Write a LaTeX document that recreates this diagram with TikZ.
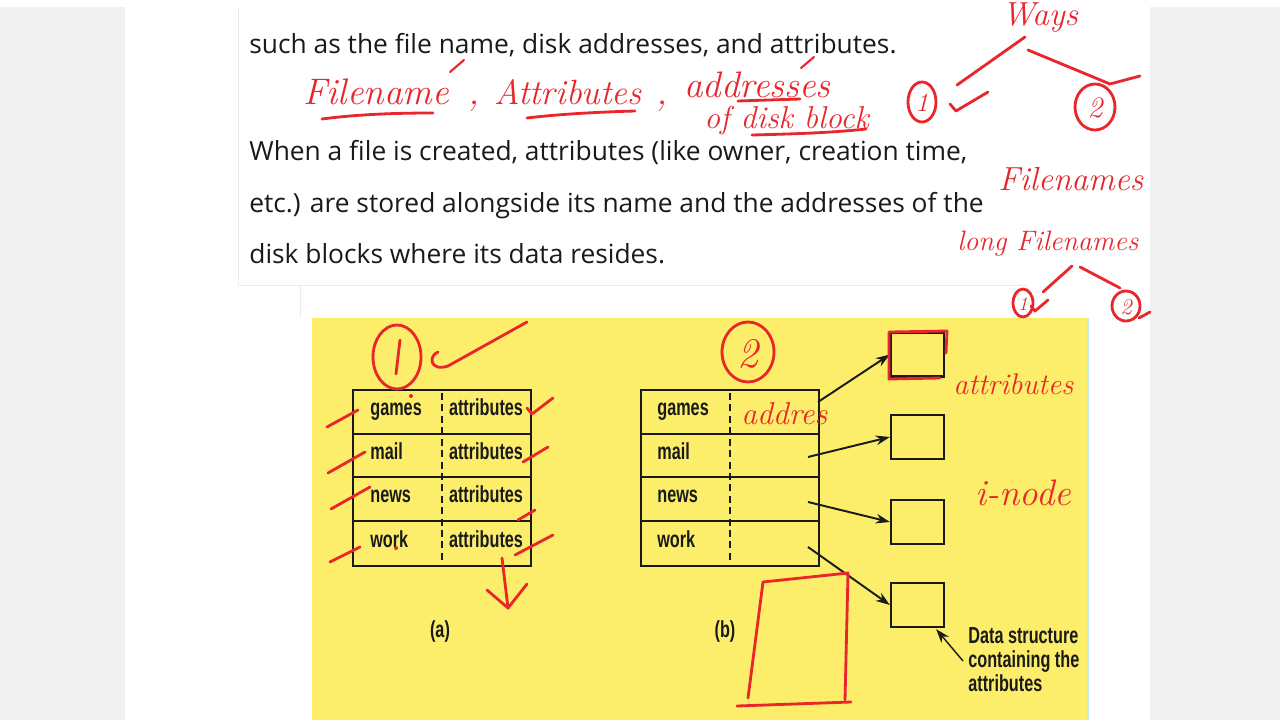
\documentclass[tikz,border=0pt]{standalone}
\usepackage{fontspec}
\usetikzlibrary{arrows.meta,calc}
\newfontfamily\bodyfont{Open Sans}
\newfontfamily\tabfont[FakeStretch=0.7]{Liberation Sans}
\definecolor{pagegray}{HTML}{F1F1F1}
\definecolor{hlyellow}{HTML}{FCEE6A}
\definecolor{penred}{HTML}{E8262B}
\definecolor{ink}{HTML}{1A1A1A}
\begin{document}
\begin{tikzpicture}[x=0.02cm,y=-0.02cm,
  body/.style={anchor=base west,inner sep=0,text=ink,font=\bodyfont\fontsize{15}{18}\selectfont},
  cell/.style={inner sep=0,text=ink,font=\tabfont\bfseries\fontsize{13.2}{13.7}\selectfont},
  ibox/.style={draw=ink,line width=1.3pt,minimum width=1.06cm,minimum height=0.88cm,inner sep=0},
  arr/.style={draw=ink,line width=1.1pt,-{Stealth[length=8pt,width=5.5pt]}},
  tab/.style={draw=ink,line width=1.6pt},
  divider/.style={draw=ink,line width=0.6pt,dash pattern=on 4pt off 2.5pt},
  pen/.style={draw=penred,line width=1.6pt,line cap=round,line join=round},
  hand/.style={text=penred,inner sep=0,anchor=base west,font=\itshape\fontsize{21}{24}\selectfont}]
\useasboundingbox (0,0) rectangle (1280,720);
% page
\fill[pagegray] (0,0) rectangle (1280,720);
\fill[white] (125,7) rectangle (1150,720);
\fill[white] (0,0) rectangle (1280,7);
\draw[black!8,line width=0.5pt] (238,7) -- (238,285) -- (1027,285);
\draw[black!8,line width=0.5pt] (300,285) -- (300,318);
% body text
\node[body] (t1) at (249,53) {such as the file name, disk addresses, and attributes.};
\node[body] (t2) at (249,160) {When a file is created, attributes (like owner, creation time,};
\node[body] (t3) at (249,212) {etc.) are stored alongside its name and the addresses of the};
\node[body] (t4) at (249,263) {disk blocks where its data resides.};
% yellow figure
\fill[hlyellow] (312,318) rectangle (1088,720);
\draw[cyan!25,line width=1pt] (1088,318) -- (1088,720);
% table (a)
\draw[tab] (353,390) rectangle (531,566);
\foreach \yy in {434,477,521} \draw[tab] (353,\yy) -- (531,\yy);
\draw[divider] (442,393) -- (442,563);
\foreach \nm/\tx/\yy in {ga/games/412,ma/mail/455.5,na/news/499,wa/work/543.5}{
  \node[cell,anchor=mid west] (\nm) at (370,\yy) {\tx};
  \node[cell,anchor=mid] (\nm t) at (486,\yy) {attributes};
}
% table (b)
\draw[tab] (641,390) rectangle (819,566);
\foreach \yy in {434,477,521} \draw[tab] (641,\yy) -- (819,\yy);
\draw[divider] (730,393) -- (730,563);
\foreach \nm/\tx/\yy in {gb/games/412,mb/mail/455.5,nb/news/499,wb/work/543.5}{
  \node[cell,anchor=mid west] (\nm) at (657,\yy) {\tx};
}
% attribute boxes
\node[ibox] (b1) at (917.5,354.5) {};
\node[ibox] (b2) at (917.5,437) {};
\node[ibox] (b3) at (917.5,522) {};
\node[ibox] (b4) at (917.5,605) {};
\coordinate (s1) at (818,402);
\coordinate (s2) at (808,457);
\coordinate (s3) at (808,502);
\coordinate (s4) at (808,547);
\draw[arr] (s1) -- (b1.west);
\draw[arr] (s2) -- (b2.west);
\draw[arr] (s3) -- (b3.west);
\draw[arr] (s4) -- (b4.west);
% labels
\node[cell] (la) at (440,631) {(a)};
\node[cell] (lb) at (725,631) {(b)};
\node[cell,anchor=north west,align=left] (ds) at (968,627) {Data structure\\containing the\\attributes};
\coordinate (dsp) at (963,661);
\draw[arr,line width=0.8pt] (dsp) -- ($(b4.south east)+(-9,1)$);
% ---- handwritten annotations ----
\node[hand] (hfn) at (303,104) {Filename};
\node[hand] (hc1) at (468,104) {,};
\node[hand,font=\itshape\fontsize{20}{24}\selectfont] (hat) at (494,104) {Attributes};
\node[hand] (hc2) at (656,104) {,};
\node[hand] (had) at (684,97) {addresses};
\node[hand,font=\itshape\fontsize{18}{22}\selectfont] (hdb) at (704,128) {of disk block};
\draw[pen] (322,119) .. controls (360,114) and (400,113) .. (433,113);
\draw[pen] (527,118) .. controls (560,114) and (600,112) .. (635,111);
\draw[pen] (738,101) -- (800,99);
\draw[pen] (752,135) .. controls (790,134) and (830,133) .. (866,129);
\draw[pen,line width=1.2pt] (450,72) -- (464,60);
\draw[pen,line width=1.2pt] (801,68) -- (814,57);
% ways tree
\node[hand,anchor=base,font=\itshape\fontsize{19}{22}\selectfont] (hw) at (1040,25) {Ways};
\draw[pen] (1025,37) -- (957,85);
\draw[pen] (1028,50) -- (1110,84) -- (1140,76);
\draw[pen] (922,102) ellipse [x radius=14,y radius=20];
\node[hand,anchor=center,font=\itshape\fontsize{15}{18}\selectfont] (hw1) at (922,103) {1};
\draw[pen] (950,104) -- (956,111) -- (988,92);
\draw[pen] (1095,107) ellipse [x radius=20,y radius=23];
\node[hand,anchor=center,font=\itshape\fontsize{17}{20}\selectfont] (hw2) at (1095,108) {2};
\node[hand,font=\itshape\fontsize{19}{22}\selectfont] (hfs) at (998,190) {Filenames};
\node[hand,font=\itshape\fontsize{16}{20}\selectfont] (hlf) at (957,250) {long Filenames};
\draw[pen] (1072,266) -- (1043,292);
\draw[pen] (1080,267) -- (1120,288);
\draw[pen] (1023,303) ellipse [x radius=10,y radius=14];
\node[hand,anchor=center,font=\itshape\fontsize{11}{13}\selectfont] (hs1) at (1023,304) {1};
\draw[pen] (1031,306) -- (1035,311) -- (1048,300);
\draw[pen] (1126,306) ellipse [x radius=14,y radius=15];
\node[hand,anchor=center,font=\itshape\fontsize{13}{15}\selectfont] (hs2) at (1126,307) {2};
\draw[pen] (1139,318) -- (1150,312);
% annotations on figure
\draw[pen] (397,357) ellipse [x radius=24,y radius=32];
\draw[pen] (400,340) -- (396,374);
\draw[pen] (438,352) .. controls (428,356) and (430,372) .. (448,366) -- (527,322);
\draw[pen] (748,352) ellipse [x radius=26,y radius=30];
\node[hand,anchor=center,font=\itshape\fontsize{24}{28}\selectfont] (h2b) at (748,354) {2};
% ticks on table (a)
\draw[pen] (327,427) -- (358,410);
\draw[pen] (328,473) -- (365,452);
\draw[pen] (331,509) -- (370,487);
\draw[pen] (330,562) -- (360,547);
\draw[pen] (527,408) -- (532,414) -- (553,398);
\draw[pen] (523,462) -- (548,447);
\draw[pen] (518,520) -- (535,510);
\draw[pen] (515,555) -- (553,535);
\draw[pen] (502,558) -- (508,608);
\draw[pen] (487,590) -- (508,608) -- (527,584);
\fill[penred] (396,548) circle [radius=2];
\fill[penred] (411,396) circle [radius=2];
% table (b) annotations
\node[hand,font=\itshape\fontsize{18}{22}\selectfont] (hadb) at (741,424) {addres};
\draw[pen] (763,582) -- (848,573) -- (845,700);
\draw[pen] (763,582) -- (748,698);
\draw[pen] (737,706) -- (851,702);
\draw[pen] (946,353) -- (947,331) -- (889,332) -- (889,379) -- (940,378);
\node[hand,font=\itshape\fontsize{17}{20}\selectfont] (hatr) at (953,394) {attributes};
\node[hand] (hin) at (975,505) {i-node};
\end{tikzpicture}
\end{document}
